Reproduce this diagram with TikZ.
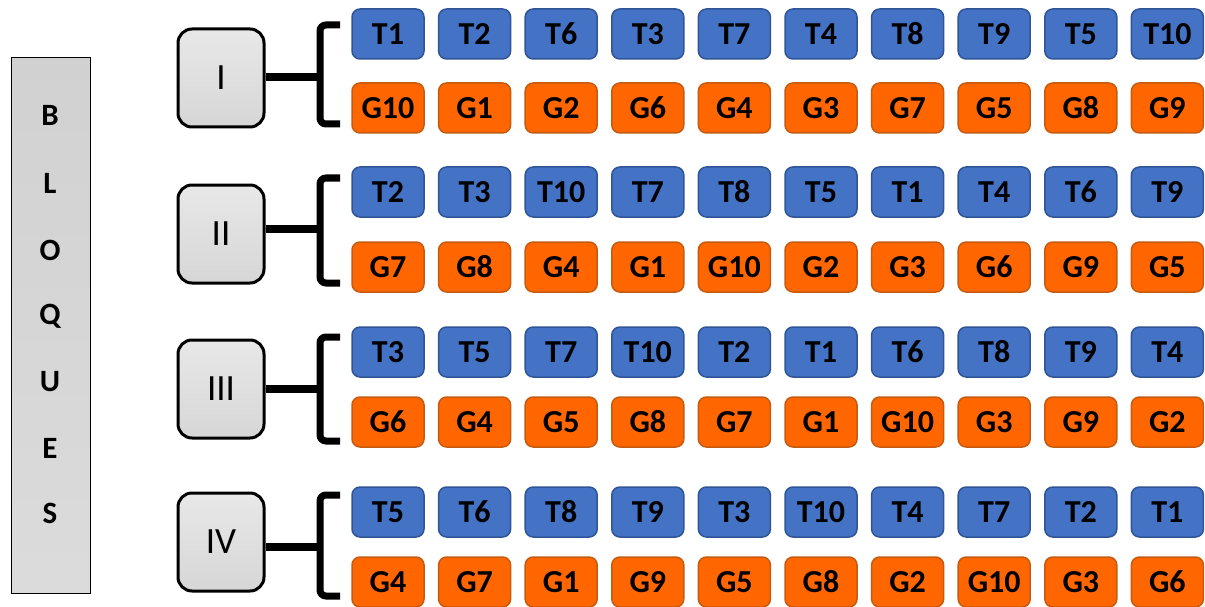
\documentclass[tikz,border=0pt]{standalone}
\usepackage{fontspec}
\setmainfont{Carlito}
\usepackage{tikz}
\usepackage{xcolor}
\definecolor{tratblue}{HTML}{4472C4}
\definecolor{tratline}{HTML}{2F5597}
\definecolor{genorange}{HTML}{FF6600}
\definecolor{genline}{HTML}{C55A11}

\tikzset{
  trat/.style={draw=tratline, fill=tratblue, line width=1.5pt, rounded corners=8pt,
    minimum width=72pt, minimum height=50pt, inner sep=0pt,
    font=\bfseries\fontsize{32}{32}\selectfont},
  gen/.style={trat, draw=genline, fill=genorange},
  bloque/.style={draw, line width=3pt, rounded corners=14pt, top color=gray!18,
    bottom color=gray!32, minimum width=86pt, minimum height=98pt, inner sep=0pt,
    font=\fontsize{37}{37}\selectfont},
  llave/.style={line width=7pt, rounded corners=6pt},
  letra/.style={font=\bfseries\fontsize{31}{31}\selectfont},
}

\begin{document}
\begin{tikzpicture}[x=1pt, y=-1pt]
\useasboundingbox (0,0) rectangle (1205,607);

% side label
\node[draw, line width=1.2pt, top color=gray!36, bottom color=gray!28, anchor=north west,
  minimum width=79pt, minimum height=536pt] (bloques) at (11,57) {};
\foreach \l/\y [count=\k] in {B/115,L/183,O/250,Q/316,U/382,E/448,S/513}
  \node[letra] (let\k) at (50,\y) {\l};

% block I
\node[bloque] (blkI) at (221,78) {I};
\coordinate (mI) at (320,77);
\draw[llave] (340,25) -- (320,25) -- (320,124) -- (340,124);
\draw[line width=8pt] (blkI.east |- mI) -- (mI);
\foreach \t [count=\i] in {T1,T2,T6,T3,T7,T4,T8,T9,T5,T10}
  \node[trat] (tI\i) at ({388+86.6*(\i-1)},34) {\t};
\foreach \g [count=\i] in {G10,G1,G2,G6,G4,G3,G7,G5,G8,G9}
  \node[gen] (gI\i) at ({388+86.6*(\i-1)},108) {\g};

% block II
\node[bloque] (blkII) at (221,234) {II};
\coordinate (mII) at (320,229);
\draw[llave] (340,178) -- (320,178) -- (320,283) -- (340,283);
\draw[line width=8pt] (blkII.east |- mII) -- (mII);
\foreach \t [count=\i] in {T2,T3,T10,T7,T8,T5,T1,T4,T6,T9}
  \node[trat] (tII\i) at ({388+86.6*(\i-1)},192) {\t};
\foreach \g [count=\i] in {G7,G8,G4,G1,G10,G2,G3,G6,G9,G5}
  \node[gen] (gII\i) at ({388+86.6*(\i-1)},267) {\g};

% block III
\node[bloque] (blkIII) at (221,389) {III};
\coordinate (mIII) at (320,389);
\draw[llave] (340,337) -- (320,337) -- (320,441) -- (340,441);
\draw[line width=8pt] (blkIII.east |- mIII) -- (mIII);
\foreach \t [count=\i] in {T3,T5,T7,T10,T2,T1,T6,T8,T9,T4}
  \node[trat] (tIII\i) at ({388+86.6*(\i-1)},352) {\t};
\foreach \g [count=\i] in {G6,G4,G5,G8,G7,G1,G10,G3,G9,G2}
  \node[gen] (gIII\i) at ({388+86.6*(\i-1)},422) {\g};

% block IV
\node[bloque] (blkIV) at (221,542) {IV};
\coordinate (mIV) at (320,547);
\draw[llave] (340,495) -- (320,495) -- (320,596) -- (340,596);
\draw[line width=8pt] (blkIV.east |- mIV) -- (mIV);
\foreach \t [count=\i] in {T5,T6,T8,T9,T3,T10,T4,T7,T2,T1}
  \node[trat] (tIV\i) at ({388+86.6*(\i-1)},512) {\t};
\foreach \g [count=\i] in {G4,G7,G1,G9,G5,G8,G2,G10,G3,G6}
  \node[gen] (gIV\i) at ({388+86.6*(\i-1)},582) {\g};
\end{tikzpicture}
\end{document}
